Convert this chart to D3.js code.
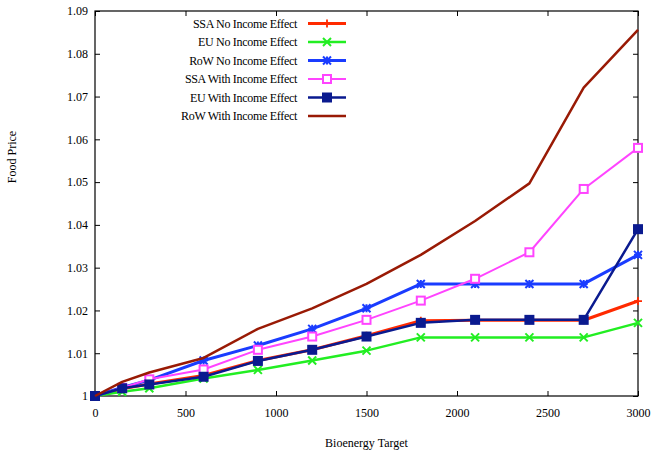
<!DOCTYPE html>
<html>
<head>
<meta charset="utf-8">
<script src="https://cdn.jsdelivr.net/npm/d3@7/dist/d3.min.js"></script>
<style>
  html, body { margin: 0; padding: 0; background: #fff; }
  svg { display: block; }
  text { font-family: "Liberation Serif", "Times New Roman", serif; font-size: 12px; fill: #000; }
</style>
</head>
<body>
<svg id="chart" width="651" height="454"></svg>
<script>
// Bioenergy target levels (x axis)
const targets = [0, 150, 300, 600, 900, 1200, 1500, 1800, 2100, 2400, 2700, 3000];

// Food price index per region and scenario
const ssaNoIncome  = [1, 1.0017, 1.0028, 1.0048, 1.0083, 1.0108, 1.0141, 1.0176, 1.0177, 1.0177, 1.0177, 1.0222];
const euNoIncome   = [1, 1.0010, 1.0018, 1.0041, 1.0061, 1.0083, 1.0106, 1.0137, 1.0137, 1.0137, 1.0137, 1.0171];
const rowNoIncome  = [1, 1.0020, 1.0037, 1.0083, 1.0118, 1.0157, 1.0205, 1.0262, 1.0262, 1.0262, 1.0262, 1.0330];
const ssaIncome    = [1, 1.0019, 1.0039, 1.0062, 1.0108, 1.0139, 1.0178, 1.0223, 1.0274, 1.0336, 1.0484, 1.0580];
const euIncome     = [1, 1.0018, 1.0027, 1.0045, 1.0082, 1.0108, 1.0139, 1.0171, 1.0178, 1.0178, 1.0178, 1.0390];
const rowIncome    = [1, 1.0033, 1.0055, 1.0089, 1.0157, 1.0205, 1.0262, 1.0330, 1.0409, 1.0497, 1.0721, 1.0856];

const seriesNames = [
  "SSA No Income Effect", "EU No Income Effect", "RoW No Income Effect",
  "SSA With Income Effect", "EU With Income Effect", "RoW With Income Effect"
];

const xTicks = [0, 500, 1000, 1500, 2000, 2500, 3000];
const yTicks = [1, 1.01, 1.02, 1.03, 1.04, 1.05, 1.06, 1.07, 1.08, 1.09];

const series = [
  { name: seriesNames[0], values: ssaNoIncome, color: "#ff2a00", width: 3,   marker: "plus" },
  { name: seriesNames[1], values: euNoIncome,  color: "#22ee22", width: 2.5, marker: "cross" },
  { name: seriesNames[2], values: rowNoIncome, color: "#1a3cff", width: 3,   marker: "star" },
  { name: seriesNames[3], values: ssaIncome,   color: "#ff44ff", width: 2,   marker: "openSquare" },
  { name: seriesNames[4], values: euIncome,    color: "#0a1a8f", width: 2.5, marker: "filledSquare" },
  { name: seriesNames[5], values: rowIncome,   color: "#991a05", width: 2.5, marker: "none" }
];

const svg = d3.select("#chart");
const plotLeft = 95, plotRight = 638, plotTop = 11, plotBottom = 396;

const x = d3.scaleLinear().domain([0, 3000]).range([plotLeft, plotRight]);
const y = d3.scaleLinear().domain([1, 1.09]).range([plotBottom, plotTop]);

const fmtY = d => d === 1 ? "1" : d3.format(".2f")(d);

// Axes with inward ticks, mirrored on top and right
svg.append("g").attr("transform", `translate(0,${plotBottom})`)
  .call(d3.axisBottom(x).tickValues(xTicks).tickSize(-5).tickPadding(12).tickFormat(d3.format("d")));
svg.append("g").attr("transform", `translate(0,${plotTop})`)
  .call(d3.axisTop(x).tickValues(xTicks).tickSize(-5).tickFormat(""));
svg.append("g").attr("transform", `translate(${plotLeft},0)`)
  .call(d3.axisLeft(y).tickValues(yTicks).tickSize(-5).tickPadding(7).tickFormat(fmtY));
svg.append("g").attr("transform", `translate(${plotRight},0)`)
  .call(d3.axisRight(y).tickValues(yTicks).tickSize(-5).tickFormat(""));

svg.selectAll(".domain").remove();
svg.selectAll(".tick line").attr("stroke", "#000").attr("stroke-width", 1);
svg.selectAll(".tick text").style("font-family", "Liberation Serif").style("font-size", "12px");

// Plot frame
svg.append("rect")
  .attr("x", plotLeft).attr("y", plotTop)
  .attr("width", plotRight - plotLeft).attr("height", plotBottom - plotTop)
  .attr("fill", "none").attr("stroke", "#000").attr("stroke-width", 1.2);

// Axis titles
svg.append("text")
  .attr("x", (plotLeft + plotRight) / 2).attr("y", 447)
  .attr("text-anchor", "middle")
  .text("Bioenergy Target");
svg.append("text")
  .attr("transform", "translate(16,157) rotate(-90)")
  .attr("text-anchor", "middle")
  .text("Food Price");

function drawMarker(g, type, cx, cy, color) {
  const s = 4;
  if (type === "plus") {
    g.append("path").attr("d", `M${cx - s},${cy}H${cx + s}M${cx},${cy - s}V${cy + s}`)
      .attr("stroke", color).attr("stroke-width", 1.8).attr("fill", "none");
  } else if (type === "cross") {
    g.append("path").attr("d", `M${cx - s},${cy - s}L${cx + s},${cy + s}M${cx - s},${cy + s}L${cx + s},${cy - s}`)
      .attr("stroke", color).attr("stroke-width", 2).attr("fill", "none");
  } else if (type === "star") {
    g.append("path").attr("d",
      `M${cx - s},${cy}H${cx + s}M${cx},${cy - s}V${cy + s}` +
      `M${cx - s},${cy - s}L${cx + s},${cy + s}M${cx - s},${cy + s}L${cx + s},${cy - s}`)
      .attr("stroke", color).attr("stroke-width", 2).attr("fill", "none");
  } else if (type === "openSquare") {
    g.append("rect").attr("x", cx - 4).attr("y", cy - 4).attr("width", 8).attr("height", 8)
      .attr("fill", "#fff").attr("stroke", color).attr("stroke-width", 2);
  } else if (type === "filledSquare") {
    g.append("rect").attr("x", cx - 5).attr("y", cy - 5).attr("width", 10).attr("height", 10)
      .attr("fill", color).attr("stroke", "none");
  }
}

const line = d3.line().x(d => x(d[0])).y(d => y(d[1]));

series.forEach(s => {
  const pts = targets.map((t, i) => [t, s.values[i]]);
  const g = svg.append("g");
  g.append("path").datum(pts)
    .attr("d", line)
    .attr("fill", "none")
    .attr("stroke", s.color)
    .attr("stroke-width", s.width)
    .attr("stroke-linejoin", "round");
  pts.forEach(p => drawMarker(g, s.marker, x(p[0]), y(p[1]), s.color));
});

// Legend
const legend = svg.append("g");
series.forEach((s, i) => {
  const ly = 23.5 + i * 18.5;
  legend.append("text")
    .attr("x", 297).attr("y", ly)
    .attr("dy", "0.35em")
    .attr("text-anchor", "end")
    .attr("letter-spacing", "-0.3")
    .text(s.name);
  legend.append("line")
    .attr("x1", 308).attr("x2", 346).attr("y1", ly).attr("y2", ly)
    .attr("stroke", s.color).attr("stroke-width", s.width);
  drawMarker(legend, s.marker, 327, ly, s.color);
});
</script>
</body>
</html>
